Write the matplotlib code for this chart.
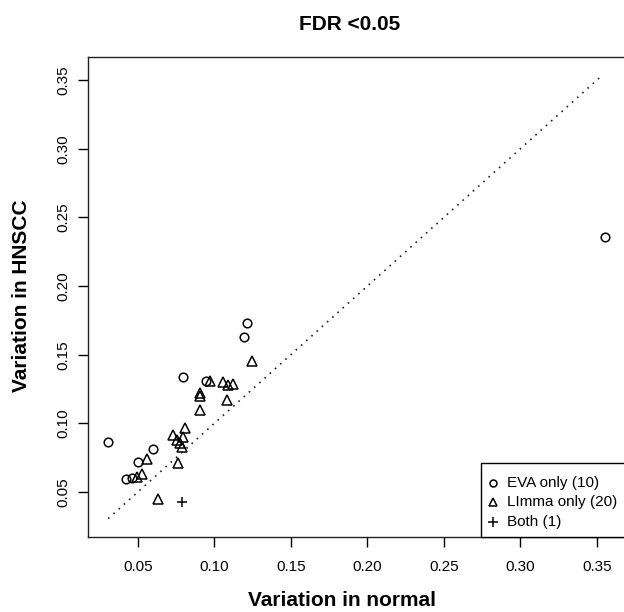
import matplotlib
matplotlib.use("Agg")
import matplotlib.pyplot as plt
from matplotlib.patches import Rectangle

plt.rcParams['font.family'] = ['Liberation Sans', 'DejaVu Sans']

# EVA only (10)
eva_x = [0.0307, 0.0420, 0.0464, 0.0503, 0.0601, 0.0793, 0.0945, 0.1193, 0.1211, 0.3553]
eva_y = [0.0868, 0.0595, 0.0600, 0.0718, 0.0813, 0.1336, 0.1310, 0.1631, 0.1733, 0.2354]

# Limma only (20)
limma_x = [0.1248, 0.0971, 0.1056, 0.1089, 0.1122, 0.0905, 0.0905, 0.0906, 0.1080,
           0.0808, 0.0731, 0.0754, 0.0775, 0.0786, 0.0797, 0.0764, 0.0558, 0.0492,
           0.0525, 0.0630]
limma_y = [0.1453, 0.1310, 0.1300, 0.1280, 0.1290, 0.1220, 0.1197, 0.1094, 0.1170,
           0.0966, 0.0917, 0.0880, 0.0856, 0.0827, 0.0904, 0.0712, 0.0739, 0.0607,
           0.0630, 0.0448]

# Both (1)
both_x = [0.0790]
both_y = [0.0429]

# reference diagonal
diag = [0.0307, 0.353]

xticks = [0.05, 0.10, 0.15, 0.20, 0.25, 0.30, 0.35]
yticks = [0.05, 0.10, 0.15, 0.20, 0.25, 0.30, 0.35]

labels = ["EVA only (10)", "LImma only (20)", "Both (1)"]

W, H = 624, 612
fig = plt.figure(figsize=(6.24, 6.12), dpi=100)
ax = fig.add_axes([88 / W, 1 - 536.7 / H, (624.5 - 88) / W, (536.7 - 56.7) / H])

ms = 6.2
styles = [
    dict(marker='o', ms=ms, mfc='none', mec='black', mew=1.1),
    dict(marker='^', ms=ms + 0.6, mfc='none', mec='black', mew=1.1),
    dict(marker='+', ms=ms + 1.5, mec='black', mew=1.1),
]
ax.plot(eva_x, eva_y, linestyle='none', **styles[0])
ax.plot(limma_x, limma_y, linestyle='none', **styles[1])
ax.plot(both_x, both_y, linestyle='none', **styles[2])
ax.plot(diag, diag, color='#222222', lw=1.2, linestyle=(0, (1, 3.2)))

ax.set_xlim(0.0175, 0.368)
ax.set_ylim(0.0175, 0.367)
ax.set_xticks(xticks)
ax.set_xticklabels([f"{t:.2f}" for t in xticks])
ax.set_yticks(yticks)
ax.set_yticklabels([f"{t:.2f}" for t in yticks], rotation=90, va='center')
ax.tick_params(axis='both', direction='out', length=7, width=1.0, labelsize=11, colors='black')
ax.tick_params(axis='x', pad=10)
ax.tick_params(axis='y', pad=6)
for s in ax.spines.values():
    s.set_linewidth(1.0)
    s.set_color('#222222')

fig.text(350 / W, 1 - 24.7 / H, "FDR <0.05", ha='center', va='center', fontsize=15, fontweight='bold')
fig.text(342 / W, 1 - 600 / H, "Variation in normal", ha='center', va='center', fontsize=15, fontweight='bold')
fig.text(22 / W, 1 - 296 / H, "Variation in HNSCC", ha='center', va='center', fontsize=15,
         fontweight='bold', rotation=90)

# legend drawn by hand (R-style box in the bottom-right corner)
box_l, box_t, box_r, box_b = 481, 462.7, 626, 536.7
fig.patches.append(Rectangle((box_l / W, 1 - box_b / H), (box_r - box_l) / W, (box_b - box_t) / H,
                             transform=fig.transFigure, fill=True, facecolor='white',
                             edgecolor='black', lw=1.0, zorder=5))
leg_ms = [5.0, 5.5, 7.0]
rows = [482.7, 502.2, 521.7]
for i, (lab, st) in enumerate(zip(labels, styles)):
    st2 = dict(st)
    st2['ms'] = leg_ms[i]
    fig.add_artist(plt.Line2D([493.3 / W], [1 - rows[i] / H], linestyle='none',
                              transform=fig.transFigure, zorder=6, **st2))
    fig.text(506.7 / W, 1 - rows[i] / H, lab, ha='left', va='center', fontsize=11, zorder=6)

fig.savefig("out.png", dpi=100)
